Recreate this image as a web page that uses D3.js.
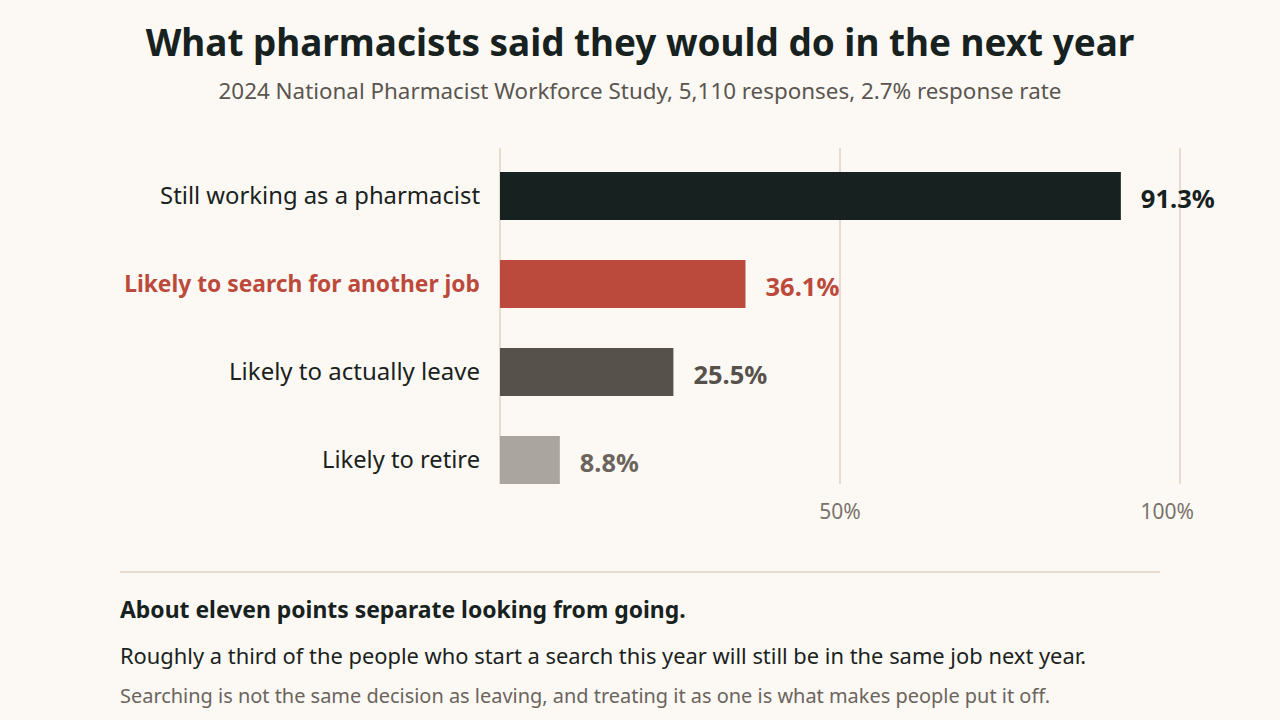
<!DOCTYPE html>
<html>
<head>
<meta charset="utf-8">
<script src="https://cdn.jsdelivr.net/npm/d3@7"></script>
<style>
  html, body { margin: 0; padding: 0; background: #fcf9f4; }
  svg { display: block; font-family: "Noto Sans", sans-serif; }
</style>
</head>
<body>
<div id="chart"></div>
<script>
const width = 1280
const height = 720

// data
const categories = ["Still working as a pharmacist", "Likely to search for another job", "Likely to actually leave", "Likely to retire"]
const values = [91.3, 36.1, 25.5, 8.8]
const tickValues = [50, 100]
const barColors = ["#172120", "#bc4a3c", "#57514b", "#aaa69f"]
const valueColors = ["#172120", "#bc4a3c", "#57514b", "#6b645d"]
const labelColors = ["#1a2220", "#bc4a3c", "#1a2220", "#1a2220"]
// widths the labels take in the reference, used to size the fallback font
const labelWidths = [320, 356, 251, 158]
const valueWidths = [74, 74, 74, 59]

const svg = d3.select("#chart")
    .append("svg")
    .attr("width", width)
    .attr("height", height)
    .style("background-color", "#fcf9f4");

// shrink/grow font so text hits the width seen in the reference
function fit(sel, target) {
    sel.each(function (d, i) {
        const t = d3.select(this)
        const w = this.getComputedTextLength()
        const goal = typeof target === "function" ? target(d, i) : target
        t.attr("font-size", (parseFloat(t.attr("font-size")) * goal / w).toFixed(2))
    })
    return sel
}

// title + subtitle
fit(svg.append("text")
    .attr("x", 640).attr("y", 56)
    .attr("text-anchor", "middle")
    .attr("font-size", 38)
    .attr("font-weight", 700)
    .attr("fill", "#172120")
    .text("What pharmacists said they would do in the next year"), 989)

fit(svg.append("text")
    .attr("x", 640).attr("y", 99)
    .attr("text-anchor", "middle")
    .attr("font-size", 21)
    .attr("fill", "#5a5550")
    .text("2024 National Pharmacist Workforce Study, 5,110 responses, 2.7% response rate"), 843)

const x = d3.scaleLinear().domain([0, 100]).range([500, 1180])
const y = d3.scaleBand().domain(categories).range([152, 504]).paddingInner(0.4545).paddingOuter(0.2273)

// gridlines
svg.append("g")
    .selectAll("line")
    .data([0].concat(tickValues))
    .enter()
    .append("line")
    .attr("x1", d => x(d)).attr("x2", d => x(d))
    .attr("y1", 148).attr("y2", 484)
    .attr("stroke", "#e6ddd0")
    .attr("stroke-width", 2)

// tick labels (last one pulled in so it stays inside the frame)
svg.append("g")
    .selectAll("text")
    .data(tickValues)
    .enter()
    .append("text")
    .attr("x", (d, i) => i == tickValues.length - 1 ? x(d) + 14 : x(d))
    .attr("y", 519)
    .attr("text-anchor", (d, i) => i == tickValues.length - 1 ? "end" : "middle")
    .attr("font-size", 21)
    .attr("fill", "#7a736c")
    .text(d => d + "%")

// bars
svg.append("g")
    .selectAll("rect")
    .data(values)
    .enter()
    .append("rect")
    .attr("x", x(0))
    .attr("y", (d, i) => y(categories[i]))
    .attr("width", d => x(d) - x(0))
    .attr("height", y.bandwidth())
    .attr("fill", (d, i) => barColors[i])

// value labels
fit(svg.append("g")
    .selectAll("text")
    .data(values)
    .enter()
    .append("text")
    .attr("x", d => x(d) + 20)
    .attr("y", (d, i) => y(categories[i]) + y.bandwidth() / 2 + 12)
    .attr("font-size", 22)
    .attr("font-weight", 700)
    .attr("fill", (d, i) => valueColors[i])
    .text(d => d.toFixed(1) + "%"), (d, i) => valueWidths[i])

// category labels
fit(svg.append("g")
    .selectAll("text")
    .data(categories)
    .enter()
    .append("text")
    .attr("x", 480)
    .attr("y", d => y(d) + y.bandwidth() / 2 + 8)
    .attr("text-anchor", "end")
    .attr("font-size", 22)
    .attr("font-weight", (d, i) => i == 1 ? 700 : 400)
    .attr("fill", (d, i) => labelColors[i])
    .text(d => d), (d, i) => labelWidths[i])

// divider + notes
svg.append("line")
    .attr("x1", 120).attr("x2", 1160)
    .attr("y1", 572).attr("y2", 572)
    .attr("stroke", "#e6ddd0")
    .attr("stroke-width", 2)

fit(svg.append("text")
    .attr("x", 120).attr("y", 618)
    .attr("font-size", 22)
    .attr("font-weight", 700)
    .attr("fill", "#172120")
    .text("About eleven points separate looking from going."), 566)

fit(svg.append("text")
    .attr("x", 120).attr("y", 664)
    .attr("font-size", 21)
    .attr("fill", "#1a2220")
    .text("Roughly a third of the people who start a search this year will still be in the same job next year."), 967)

fit(svg.append("text")
    .attr("x", 120).attr("y", 703)
    .attr("font-size", 19)
    .attr("fill", "#6b645d")
    .text("Searching is not the same decision as leaving, and treating it as one is what makes people put it off."), 930)
</script>
</body>
</html>
